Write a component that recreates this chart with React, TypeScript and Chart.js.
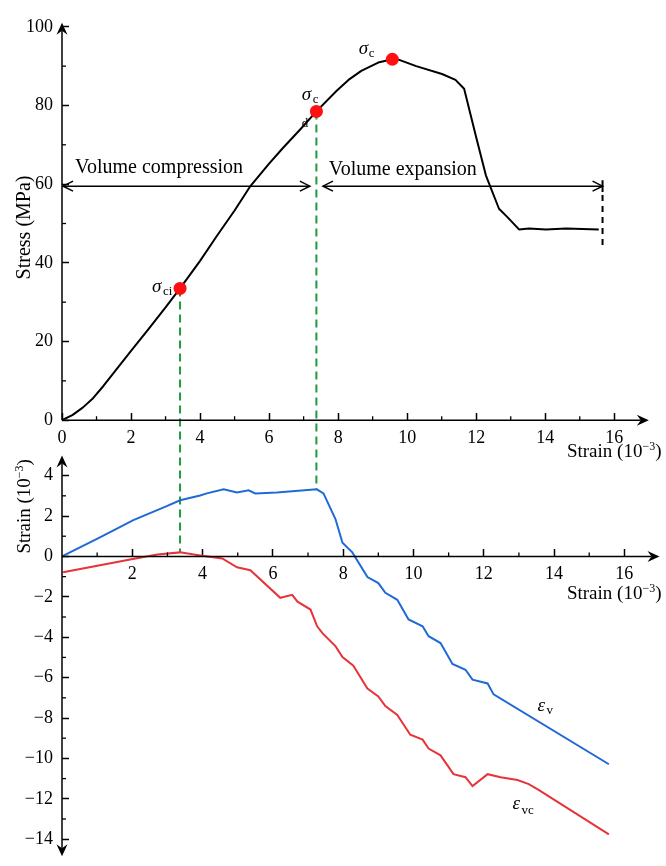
import React, { useEffect, useRef } from "react";
import { Chart, registerables } from "chart.js";

Chart.register(...registerables);

// ---------- data ----------
const stressStrainX = [0, 0.3, 0.6, 0.9, 1.2, 1.6, 2.0, 2.5, 3.0, 3.42, 4.0, 4.5, 5.0, 5.44, 6.0, 6.4, 6.9, 7.37, 7.95, 8.3, 8.67, 9.19, 9.57, 9.77, 10.26, 11.01, 11.4, 11.65, 11.99, 12.28, 12.66, 12.89, 13.24, 13.53, 14.02, 14.6, 15.55];
const stressMPa = [0, 1.3, 3.2, 5.6, 8.7, 13.2, 17.6, 23.1, 28.7, 33.5, 40.5, 47, 53.3, 59.3, 65.2, 69.2, 73.9, 78.5, 83.7, 86.5, 88.8, 91, 91.75, 91.6, 90, 88, 86.5, 84.25, 72.25, 62.25, 53.75, 51.75, 48.5, 48.75, 48.5, 48.75, 48.5];

const evStrainX = [0, 1.08, 2.03, 2.98, 3.36, 3.93, 4.12, 4.6, 4.98, 5.31, 5.5, 6.11, 7.25, 7.44, 7.78, 7.98, 8.26, 8.69, 9.0, 9.2, 9.54, 9.86, 10.26, 10.43, 10.77, 11.11, 11.48, 11.68, 12.11, 12.28, 15.56];
const evValues = [0, 0.94, 1.8, 2.49, 2.78, 3.02, 3.12, 3.32, 3.17, 3.27, 3.12, 3.17, 3.32, 3.12, 1.85, 0.68, 0.2, -1.02, -1.32, -1.8, -2.15, -3.12, -3.46, -3.95, -4.29, -5.32, -5.61, -6.1, -6.29, -6.83, -10.29];

const evcStrainX = [0.03, 1.08, 1.94, 2.71, 3.36, 3.93, 4.56, 4.98, 5.36, 6.21, 6.55, 6.7, 7.07, 7.26, 7.41, 7.78, 7.98, 8.29, 8.69, 9.0, 9.2, 9.54, 9.91, 10.26, 10.43, 10.77, 11.14, 11.48, 11.68, 12.11, 12.48, 12.96, 13.28, 13.56, 15.56];
const evcValues = [-0.78, -0.44, -0.15, 0.1, 0.2, 0.05, -0.1, -0.54, -0.68, -2.05, -1.9, -2.24, -2.63, -3.46, -3.8, -4.44, -4.98, -5.41, -6.54, -6.93, -7.41, -7.85, -8.83, -9.07, -9.51, -9.85, -10.78, -10.93, -11.37, -10.78, -10.93, -11.07, -11.27, -11.56, -13.76];

const markerStrain = [3.42, 7.37, 9.57];
const markerStress = [33.5, 78.5, 91.75];
const guideMarkers = [0, 1];
const guideEndStrain = [0.2, 3.3];

const xMajorTicks = [0, 2, 4, 6, 8, 10, 12, 14, 16];
const x2MajorTicks = [2, 4, 6, 8, 10, 12, 14, 16];
const xMinorTicks = [1, 3, 5, 7, 9, 11, 13, 15];
const stressMajorTicks = [0, 20, 40, 60, 80, 100];
const stressMinorTicks = [10, 30, 50, 70, 90];
const strainMajorTicks = [-14, -12, -10, -8, -6, -4, -2, 0, 2, 4];
const strainMinorTicks = [-13, -11, -9, -7, -5, -3, -1, 1, 3];

const bandStress = 59.5;
const compressionRange = [0.03, 7.18];
const expansionRange = [7.56, 15.66];
const endBarStress = [61, 58, 44.25];

// ---------- style ----------
const FONT = '"Liberation Serif", "Times New Roman", serif';
const GREEN = "#1f9a3c";
const BLUE = "#1f6ad6";
const RED = "#e6343a";
const DOT = "#ff1010";

function arrowHead(ctx: CanvasRenderingContext2D, x: number, y: number, dx: number, dy: number) {
  const L = 12, W = 5.5, N = 8;
  const px = -dy, py = dx;
  ctx.beginPath();
  ctx.moveTo(x, y);
  ctx.lineTo(x - dx * L + px * W, y - dy * L + py * W);
  ctx.lineTo(x - dx * N, y - dy * N);
  ctx.lineTo(x - dx * L - px * W, y - dy * L - py * W);
  ctx.closePath();
  ctx.fill();
}

function seg(ctx: CanvasRenderingContext2D, x1: number, y1: number, x2: number, y2: number) {
  ctx.beginPath();
  ctx.moveTo(x1, y1);
  ctx.lineTo(x2, y2);
  ctx.stroke();
}

function openHead(ctx: CanvasRenderingContext2D, x: number, y: number, dir: number) {
  ctx.beginPath();
  ctx.moveTo(x - dir * 10, y - 5);
  ctx.lineTo(x, y);
  ctx.lineTo(x - dir * 10, y + 5);
  ctx.stroke();
}

function strainLabel(ctx: CanvasRenderingContext2D, x: number, y: number, align: string, rotated: boolean) {
  ctx.save();
  ctx.translate(x, y);
  if (rotated) ctx.rotate(-Math.PI / 2);
  const mainF = `19px ${FONT}`;
  const supF = `12px ${FONT}`;
  ctx.font = mainF;
  const w1 = ctx.measureText("Strain (10").width;
  const w3 = ctx.measureText(")").width;
  ctx.font = supF;
  const w2 = ctx.measureText("\u22123").width;
  const total = w1 + w2 + w3;
  const s = align === "center" ? -total / 2 : -total;
  ctx.textAlign = "left";
  ctx.textBaseline = "alphabetic";
  ctx.fillStyle = "#000";
  ctx.font = mainF;
  ctx.fillText("Strain (10", s, 6);
  ctx.font = supF;
  ctx.fillText("\u22123", s + w1, -1);
  ctx.font = mainF;
  ctx.fillText(")", s + w1 + w2, 6);
  ctx.restore();
}

function subLabel(ctx: CanvasRenderingContext2D, x: number, y: number, main: string, sub: string, subDx: number, subDy: number, mainSize = 19) {
  ctx.save();
  ctx.fillStyle = "#000";
  ctx.textAlign = "left";
  ctx.textBaseline = "alphabetic";
  ctx.font = `italic ${mainSize}px ${FONT}`;
  ctx.fillText(main, x, y);
  ctx.font = `13px ${FONT}`;
  ctx.fillText(sub, x + subDx, y + subDy);
  ctx.restore();
}

const overlay = {
  id: "overlay",
  beforeDatasetsDraw(chart: any) {
    const { ctx } = chart;
    const sx = chart.scales.x, sy = chart.scales.y, sy2 = chart.scales.y2;
    ctx.save();
    ctx.strokeStyle = GREEN;
    ctx.lineWidth = 2;
    ctx.setLineDash([8, 5]);
    guideMarkers.forEach((mi, k) => {
      const px = sx.getPixelForValue(markerStrain[mi]);
      seg(ctx, px, sy.getPixelForValue(markerStress[mi]), px, sy2.getPixelForValue(guideEndStrain[k]));
    });
    ctx.restore();
  },
  afterDraw(chart: any) {
    const { ctx, chartArea } = chart;
    const sx = chart.scales.x, sx2 = chart.scales.x2, sy = chart.scales.y, sy2 = chart.scales.y2;
    ctx.save();
    ctx.strokeStyle = "#000";
    ctx.fillStyle = "#000";
    ctx.lineWidth = 1.5;
    const x0 = sx.getPixelForValue(0);
    const yTop0 = sy.getPixelForValue(0);
    const yBot0 = sy2.getPixelForValue(0);

    // top y-axis
    const yTip = sy.getPixelForValue(101);
    seg(ctx, x0, yTop0, x0, yTip + 8);
    arrowHead(ctx, x0, yTip, 0, -1);
    // top x-axis
    const xTip = sx.getPixelForValue(17.0);
    seg(ctx, x0, yTop0, xTip - 8, yTop0);
    arrowHead(ctx, xTip, yTop0, 1, 0);
    // bottom y-axis
    const y2Top = sy2.getPixelForValue(5.0);
    const y2Bot = sy2.getPixelForValue(-14.85);
    seg(ctx, x0, y2Top + 8, x0, y2Bot - 8);
    arrowHead(ctx, x0, y2Top, 0, -1);
    arrowHead(ctx, x0, y2Bot, 0, 1);
    // bottom x-axis
    const x2Tip = sx2.getPixelForValue(17.0);
    seg(ctx, x0, yBot0, x2Tip - 8, yBot0);
    arrowHead(ctx, x2Tip, yBot0, 1, 0);

    // minor ticks
    ctx.lineWidth = 1.3;
    xMinorTicks.forEach((v) => {
      const p = sx.getPixelForValue(v);
      seg(ctx, p, yTop0, p, yTop0 - 4);
      const p2 = sx2.getPixelForValue(v);
      seg(ctx, p2, yBot0, p2, yBot0 - 4);
    });
    stressMinorTicks.forEach((v) => {
      const p = sy.getPixelForValue(v);
      seg(ctx, x0, p, x0 + 4, p);
    });
    strainMinorTicks.forEach((v) => {
      const p = sy2.getPixelForValue(v);
      seg(ctx, x0, p, x0 + 4, p);
    });

    // axis titles
    ctx.save();
    ctx.translate(24.5, sy.getPixelForValue(49));
    ctx.rotate(-Math.PI / 2);
    ctx.font = `20px ${FONT}`;
    ctx.textAlign = "center";
    ctx.textBaseline = "middle";
    ctx.fillText("Stress (MPa)", 0, 0);
    ctx.restore();
    strainLabel(ctx, 24, sy2.getPixelForValue(2.48), "center", true);
    strainLabel(ctx, chartArea.right + 2, yTop0 + 31, "right", false);
    strainLabel(ctx, chartArea.right + 2, yBot0 + 37, "right", false);

    // volume arrows
    ctx.lineWidth = 1.5;
    const ya = sy.getPixelForValue(bandStress);
    const a1 = sx.getPixelForValue(compressionRange[0]);
    const a2 = sx.getPixelForValue(compressionRange[1]);
    seg(ctx, a1, ya, a2, ya);
    openHead(ctx, a1, ya, -1);
    openHead(ctx, a2, ya, 1);
    const b1 = sx.getPixelForValue(expansionRange[0]);
    const b2 = sx.getPixelForValue(expansionRange[1]);
    seg(ctx, b1, ya, b2, ya);
    openHead(ctx, b1, ya, -1);
    openHead(ctx, b2, ya, 1);
    ctx.lineWidth = 2;
    seg(ctx, b2, sy.getPixelForValue(endBarStress[0]), b2, sy.getPixelForValue(endBarStress[1]));
    ctx.setLineDash([6, 5]);
    seg(ctx, b2, sy.getPixelForValue(endBarStress[1]) + 3, b2, sy.getPixelForValue(endBarStress[2]));
    ctx.setLineDash([]);

    ctx.font = `20px ${FONT}`;
    ctx.textAlign = "left";
    ctx.textBaseline = "middle";
    ctx.fillText("Volume compression", sx.getPixelForValue(0.38), sy.getPixelForValue(64.25));
    ctx.fillText("Volume expansion", sx.getPixelForValue(7.73), sy.getPixelForValue(63.75));

    // sigma labels (offsets from their markers)
    const m = markerStrain.map((v, i) => [sx.getPixelForValue(v), sy.getPixelForValue(markerStress[i])]);
    subLabel(ctx, m[0][0] - 28, m[0][1] + 4, "\u03c3", "ci", 11, 3);
    subLabel(ctx, m[1][0] - 14.7, m[1][1] - 11, "\u03c3", "c", 11, 3);
    ctx.font = `13px ${FONT}`;
    ctx.fillText("d", m[1][0] - 14.7, m[1][1] + 12);
    subLabel(ctx, m[2][0] - 33.7, m[2][1] - 5, "\u03c3", "c", 10, 3);

    // epsilon labels
    subLabel(ctx, sx2.getPixelForValue(13.53), sy2.getPixelForValue(-7.4) + 5, "\u03b5", "v", 9, 3);
    subLabel(ctx, sx2.getPixelForValue(12.82), sy2.getPixelForValue(-12.27) + 5, "\u03b5", "vc", 9, 5);

    ctx.restore();
  },
};

const tickFont = { family: FONT, size: 18 };
const fmt = (v: any) => String(v).replace("-", "\u2212");

function xScale(max: number, yKey: string, majors: number[]) {
  return {
    type: "linear",
    axis: "x",
    min: 0,
    max,
    position: { [yKey]: 0 },
    afterBuildTicks: (s: any) => {
      s.ticks = majors.map((v) => ({ value: v }));
    },
    grid: { drawOnChartArea: false, tickLength: -7, tickColor: "#000", tickWidth: 1.5, color: "#000" },
    border: { display: false },
    ticks: { font: tickFont, color: "#000", padding: 14, maxRotation: 0, autoSkip: false, callback: fmt },
  };
}

function yScale(min: number, max: number, majors: number[], weight: number, stackWeight: number) {
  return {
    type: "linear",
    axis: "y",
    position: "left",
    stack: "v",
    stackWeight,
    weight,
    min,
    max,
    afterBuildTicks: (s: any) => {
      s.ticks = majors.map((v) => ({ value: v }));
    },
    afterFit: (s: any) => {
      s.width = 62;
    },
    grid: { drawOnChartArea: false, tickLength: -7, tickColor: "#000", tickWidth: 1.5, color: "#000" },
    border: { display: false },
    ticks: { font: tickFont, color: "#000", padding: 16, autoSkip: false, callback: fmt },
  };
}

export default function App() {
  const ref = useRef<HTMLCanvasElement>(null);
  useEffect(() => {
    const chart = new Chart(ref.current as HTMLCanvasElement, {
      type: "scatter",
      data: {
        datasets: [
          {
            label: "markers",
            data: markerStrain.map((x, i) => ({ x, y: markerStress[i] })),
            xAxisID: "x",
            yAxisID: "y",
            showLine: false,
            pointRadius: 6.5,
            pointBackgroundColor: DOT,
            pointBorderColor: DOT,
            pointBorderWidth: 0,
          },
          {
            label: "stress",
            data: stressStrainX.map((x, i) => ({ x, y: stressMPa[i] })),
            xAxisID: "x",
            yAxisID: "y",
            showLine: true,
            borderColor: "#000",
            borderWidth: 2,
            borderJoinStyle: "round",
            pointRadius: 0,
            tension: 0,
          },
          {
            label: "ev",
            data: evStrainX.map((x, i) => ({ x, y: evValues[i] })),
            xAxisID: "x2",
            yAxisID: "y2",
            showLine: true,
            borderColor: BLUE,
            borderWidth: 2,
            pointRadius: 0,
            tension: 0,
          },
          {
            label: "evc",
            data: evcStrainX.map((x, i) => ({ x, y: evcValues[i] })),
            xAxisID: "x2",
            yAxisID: "y2",
            showLine: true,
            borderColor: RED,
            borderWidth: 2,
            pointRadius: 0,
            tension: 0,
          },
        ],
      } as any,
      options: {
        responsive: false,
        animation: false,
        layout: { padding: { left: 0, right: 6, top: 22, bottom: 18 } },
        plugins: { legend: { display: false }, tooltip: { enabled: false } },
        scales: {
          y: yScale(-7, 100, stressMajorTicks, 2, 428),
          y2: yScale(-14, 5.38, strainMajorTicks, 1, 398),
          x: xScale(17.31, "y", xMajorTicks),
          x2: xScale(17.0, "y2", x2MajorTicks),
        } as any,
      },
      plugins: [overlay],
    });
    return () => chart.destroy();
  }, []);
  return (
    <div style={{ position: "absolute", left: 0, top: 0, width: 666, height: 866, background: "#fff" }}>
      <canvas ref={ref} width={666} height={866} style={{ display: "block", width: 666, height: 866 }} />
    </div>
  );
}
